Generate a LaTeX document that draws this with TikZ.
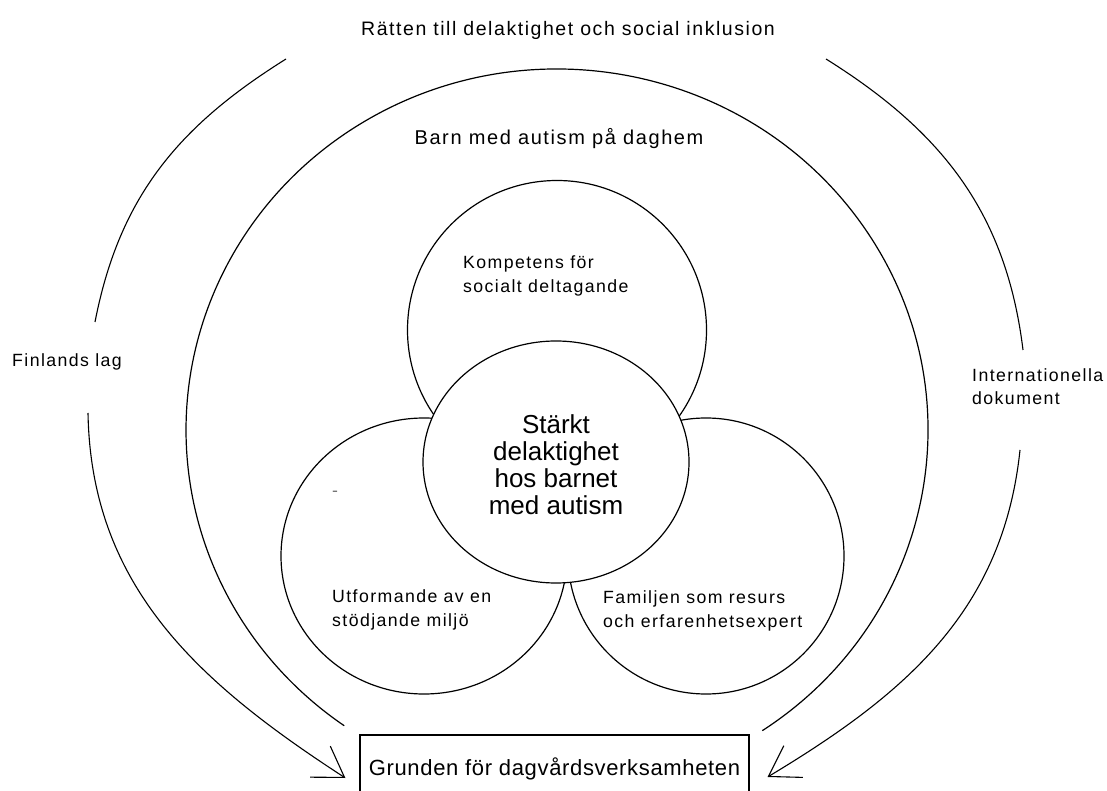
\documentclass[tikz,border=0pt]{standalone}
\usepackage{fontspec}
\setmainfont{Liberation Sans}
\newfontfamily\spacedfont{Liberation Sans}[LetterSpace=8]
\newfontfamily\boxfont{Liberation Sans}[LetterSpace=3]
\usepackage{tikz}
\usetikzlibrary{arrows.meta, shapes.geometric}

\begin{document}
\begin{tikzpicture}[
    x=1pt, y=1pt,
    ring/.style  = {draw, ellipse, fill=white, line width=1.2pt, inner sep=0pt},
    sweep/.style = {line width=1.1pt},
    arr/.style   = {-{Straight Barb[length=29pt, width=37pt]}, line width=1.1pt},
    lbl/.style   = {anchor=base west, align=left, inner sep=0pt,
                    font=\spacedfont\fontsize{17.7}{24}\selectfont},
    head/.style  = {anchor=base, inner sep=0pt, font=\spacedfont\fontsize{19.5}{23}\selectfont},
]

    % ── Ram ──
    \clip (0,0) rectangle (1107,790);
    \useasboundingbox (0,0) rectangle (1107,790);

    % ── Rubrik ──
    \node[head] (title) at (568,754) {Rätten till delaktighet och social inklusion};

    % ── Stora bågen : barnet på daghem ──
    \coordinate (nest) at (557,360);
    \draw[sweep, line width=1.2pt] (nest) ++(-56.4:371pt and 361pt)
        arc[start angle=-56.4, end angle=235, x radius=371pt, y radius=361pt];
    \node[head, font=\spacedfont\fontsize{20}{24}\selectfont] (child) at (559,645) {Barn med autism på daghem};

    % ── Cirklarna ──
    \node[ring, minimum width=299pt, minimum height=299pt] (comp) at (557,460) {};
    \node[ring, minimum width=286pt, minimum height=276pt] (env)  at (424,234) {};
    \node[ring, minimum width=276pt, minimum height=276pt] (fam)  at (706,234) {};
    \node[ring, minimum width=266pt, minimum height=242pt, align=center,
          font=\fontsize{26}{27.3}\selectfont] (core) at (556,328)
          {\\[-3pt]Stärkt\\delaktighet\\hos barnet\\med autism};

    % (baslinjen gäller sista raden)
    \node[lbl] (comptxt) at (463,497) {Kompetens för\\socialt deltagande};
    \node[lbl] (envtxt)  at (332,164) {Utformande av en\\stödjande miljö};
    \node[lbl] (famtxt)  at (603,163) {Familjen som resurs\\och erfarenhetsexpert};
    \node[lbl, text=black!55] (dash) at (332,293) {-};

    % ── Sidotexter ──
    \node[lbl] (law)  at (12,423)  {Finlands lag};
    \node[lbl, font=\spacedfont\fontsize{17.7}{23}\selectfont] (intl) at (972,385) {Internationella\\dokument};

    % ── Grunden ──
    \node[draw, line width=1.2pt, minimum width=389pt, minimum height=68pt,
          font=\boxfont\fontsize{22}{26}\selectfont] (box) at (554.5,21)
          {Grunden för dagvårdsverksamheten};

    % ── Pilar ──
    \coordinate (lawtop) at (286,731);
    \coordinate (lawmid) at (95,468);
    \coordinate (lawlow) at (88,377);
    \coordinate (lawtip) at ([xshift=-14pt, yshift=-9pt]box.west);
    \coordinate (inttop) at (826,731);
    \coordinate (intmid) at (1023,440);
    \coordinate (intlow) at (1020,340);
    \coordinate (inttip) at ([xshift=18pt, yshift=-8pt]box.east);

    \draw[sweep] (lawtop) to[out=212, in=79] (lawmid);
    \draw[arr] (lawlow) to[out=271, in=147] (lawtip);
    \draw[sweep] (inttop) to[out=-32, in=97] (intmid);
    \draw[arr] (intlow) to[out=264, in=31] (inttip);

\end{tikzpicture}
\end{document}
